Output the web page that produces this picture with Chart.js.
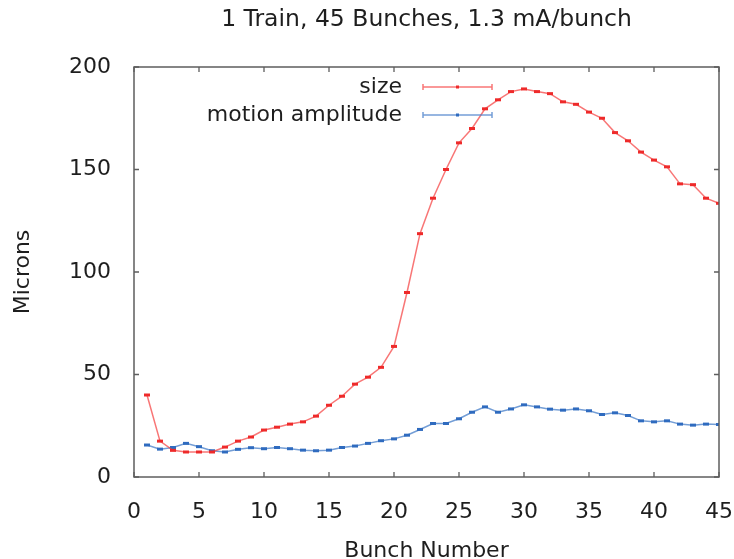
<!DOCTYPE html>
<html>
<head>
<meta charset="utf-8">
<script src="https://cdn.jsdelivr.net/npm/chart.js@4/dist/chart.umd.min.js"></script>
<style>
  html, body { margin: 0; padding: 0; background: #fff; }
  #wrap { width: 734px; height: 559px; }
</style>
</head>
<body>
<div id="wrap"><canvas id="chart" width="734" height="559"></canvas></div>
<script>
// ── Data ──────────────────────────────────────────────────
const bunch = [1, 2, 3, 4, 5, 6, 7, 8, 9, 10, 11, 12, 13, 14, 15, 16, 17, 18, 19, 20, 21, 22, 23,
  24, 25, 26, 27, 28, 29, 30, 31, 32, 33, 34, 35, 36, 37, 38, 39, 40, 41, 42, 43, 44, 45];
const sizeMicrons = [40, 17.5, 13, 12.2, 12.2, 12.2, 14.6, 17.5, 19.5, 22.9, 24.3, 25.8, 26.9, 29.7, 35,
  39.4, 45.3, 48.7, 53.5, 63.7, 90, 118.7, 136, 150, 163, 170, 179.6, 184, 188, 189.3,
  188, 187, 183, 181.8, 178, 175, 168, 164, 158.5, 154.6, 151.3, 143, 142.6, 136, 133.5];
const motionMicrons = [15.6, 13.6, 14.4, 16.4, 14.8, 12.8, 12.2, 13.5, 14.3, 13.8, 14.4, 13.8, 13.1, 12.8, 13.1,
  14.4, 15.1, 16.4, 17.7, 18.6, 20.4, 23.2, 26.1, 26.1, 28.4, 31.6, 34.2, 31.6, 33.2, 35.2,
  34.2, 33.1, 32.6, 33.2, 32.3, 30.5, 31.3, 30, 27.4, 26.9, 27.4, 25.8, 25.3, 25.8, 25.6];
const seriesNames = ["size", "motion amplitude"];
const chartTitle = "1 Train, 45 Bunches, 1.3 mA/bunch";
const xTicks = [0, 5, 10, 15, 20, 25, 30, 35, 40, 45];
const yTicks = [0, 50, 100, 150, 200];

const FONT = "'DejaVu Sans', sans-serif";
const TEXT = "#1e1e1e";
const FRAME = "#5e5e5e";
const RED = "#ee2a2a", RED_LINE = "rgba(245,60,60,0.7)";
const BLUE = "#2f6bbf", BLUE_LINE = "rgba(70,125,200,0.75)";

const pts = (ys) => bunch.map((b, i) => ({ x: b, y: ys[i] }));

// ── Title centred over the plot area (gnuplot style) ──────
const titlePlugin = {
  id: "gpTitle",
  afterDraw(chart) {
    const { ctx, chartArea: a } = chart;
    ctx.save();
    ctx.font = `23.5px ${FONT}`;
    ctx.fillStyle = TEXT;
    ctx.textAlign = "center";
    ctx.textBaseline = "middle";
    ctx.fillText(chartTitle, (a.left + a.right) / 2, a.top - 47);
    ctx.restore();
  },
};

// ── Gnuplot-like frame with inward ticks ──────────────────
const framePlugin = {
  id: "frame",
  afterDatasetsDraw(chart) {
    const { ctx, chartArea: a, scales } = chart;
    ctx.save();
    ctx.strokeStyle = FRAME;
    ctx.lineWidth = 1.5;
    ctx.strokeRect(a.left, a.top, a.right - a.left, a.bottom - a.top);
    ctx.lineWidth = 1.3;
    ctx.beginPath();
    xTicks.forEach((v) => {
      const px = scales.x.getPixelForValue(v);
      ctx.moveTo(px, a.bottom); ctx.lineTo(px, a.bottom - 5);
      ctx.moveTo(px, a.top); ctx.lineTo(px, a.top + 5);
    });
    yTicks.forEach((v) => {
      const py = scales.y.getPixelForValue(v);
      ctx.moveTo(a.left, py); ctx.lineTo(a.left + 5, py);
      ctx.moveTo(a.right, py); ctx.lineTo(a.right - 5, py);
    });
    ctx.stroke();
    ctx.restore();
  },
};

// ── Legend drawn gnuplot style (text right, errorbar sample) ──
const legendPlugin = {
  id: "gpLegend",
  afterDraw(chart) {
    const { ctx, chartArea: a } = chart;
    const textRight = a.left + 268;
    const x0 = a.left + 289, x1 = a.left + 358, xm = (x0 + x1) / 2;
    const colors = [[RED, RED_LINE], [BLUE, BLUE_LINE]];
    ctx.save();
    ctx.font = `22px ${FONT}`;
    ctx.textAlign = "right";
    ctx.textBaseline = "middle";
    seriesNames.forEach((name, i) => {
      const y = a.top + 20 + i * 28;
      ctx.fillStyle = TEXT;
      ctx.fillText(name, textRight, y);
      ctx.strokeStyle = colors[i][1];
      ctx.lineWidth = 1.5;
      ctx.beginPath();
      ctx.moveTo(x0, y); ctx.lineTo(x1, y);
      ctx.moveTo(x0, y - 3); ctx.lineTo(x0, y + 3);
      ctx.moveTo(x1, y - 3); ctx.lineTo(x1, y + 3);
      ctx.stroke();
      ctx.fillStyle = colors[i][0];
      ctx.fillRect(xm - 1.5, y - 1.5, 3, 3);
    });
    ctx.restore();
  },
};

new Chart(document.getElementById("chart"), {
  type: "line",
  data: {
    datasets: [
      {
        label: seriesNames[0],
        data: pts(sizeMicrons),
        borderColor: RED_LINE,
        borderWidth: 1.5,
        pointStyle: "line",
        pointRadius: 3,
        pointBorderWidth: 3,
        pointBorderColor: RED,
        pointBackgroundColor: RED,
        tension: 0,
      },
      {
        label: seriesNames[1],
        data: pts(motionMicrons),
        borderColor: BLUE_LINE,
        borderWidth: 1.5,
        pointStyle: "line",
        pointRadius: 3,
        pointBorderWidth: 3,
        pointBorderColor: BLUE,
        pointBackgroundColor: BLUE,
        tension: 0,
      },
    ],
  },
  options: {
    responsive: false,
    animation: false,
    layout: { padding: { left: 0, right: 15, top: 67, bottom: 0 } },
    plugins: {
      legend: { display: false },
      tooltip: { enabled: false },
      title: { display: false },
    },
    scales: {
      x: {
        type: "linear",
        min: 0,
        max: 45,
        grid: { display: false },
        border: { display: false },
        afterBuildTicks: (s) => { s.ticks = xTicks.map((v) => ({ value: v })); },
        afterFit: (s) => { s.height = 82; s.paddingLeft = 0; s.paddingRight = 0; },
        ticks: { color: TEXT, font: { family: FONT, size: 22 }, padding: 14, maxRotation: 0 },
        title: {
          display: true,
          text: "Bunch Number",
          color: TEXT,
          font: { family: FONT, size: 22 },
          padding: { top: 0, bottom: -5 },
        },
      },
      y: {
        min: 0,
        max: 200,
        grid: { display: false },
        border: { display: false },
        afterBuildTicks: (s) => { s.ticks = yTicks.map((v) => ({ value: v })); },
        afterFit: (s) => { s.width = 134; s.paddingTop = 0; s.paddingBottom = 0; },
        ticks: { color: TEXT, font: { family: FONT, size: 22 }, padding: 15 },
        title: {
          display: true,
          text: "Microns",
          color: TEXT,
          font: { family: FONT, size: 22 },
          padding: { top: 10, bottom: 0 },
        },
      },
    },
  },
  plugins: [framePlugin, legendPlugin, titlePlugin],
});
</script>
</body>
</html>
